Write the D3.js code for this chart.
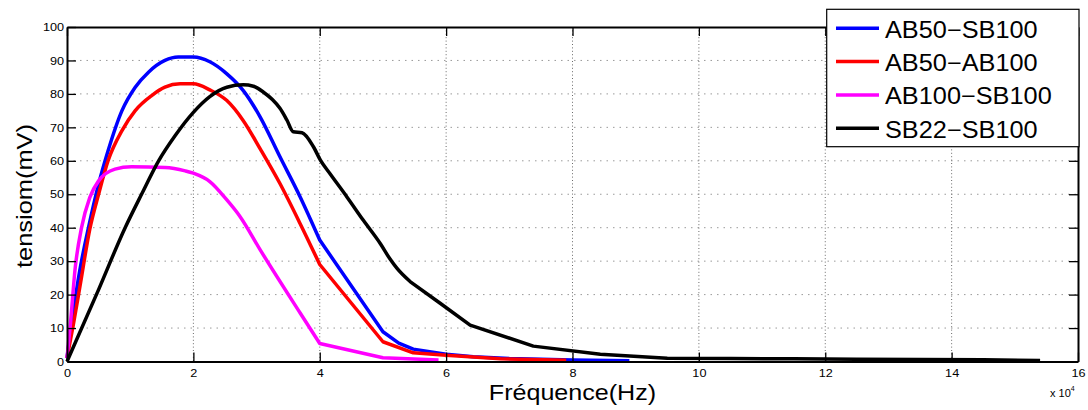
<!DOCTYPE html>
<html>
<head>
<meta charset="utf-8">
<script src="https://cdn.jsdelivr.net/npm/d3@7"></script>
<style>
  body { margin: 0; background: #fff; }
  text { font-family: "Liberation Sans", Arial, Helvetica, sans-serif; fill: #000; }
</style>
</head>
<body>
<svg width="1088" height="410"></svg>
<script>
// legend names and colours, in plot order
const seriesNames = ["AB50\u2212SB100", "AB50\u2212AB100", "AB100\u2212SB100", "SB22\u2212SB100"];
const seriesColors = ["#0000ff", "#ff0000", "#ff00ff", "#000000"];

// frequency in units of 10^4 Hz, tension in mV
const blueFreq = [0, 0.1, 0.2, 0.34, 0.5, 0.65, 0.87, 1.08, 1.29, 1.55, 1.76, 2.0, 2.26, 2.53, 2.79, 3.06, 3.37, 3.69, 4.0, 5.0, 5.25, 5.48, 6.0, 6.43, 7.0, 8.0, 8.9];
const blueVolt = [1, 15, 27, 40, 53, 63, 75, 82, 86.5, 90, 91, 91, 89.6, 86, 81, 73, 61.2, 49.2, 36.3, 8.9, 5.5, 3.7, 2.2, 1.4, 0.9, 0.45, 0.2];

const redFreq = [0, 0.1, 0.21, 0.36, 0.5, 0.65, 0.87, 1.08, 1.34, 1.55, 1.79, 2.0, 2.26, 2.53, 2.79, 3.06, 3.37, 3.69, 4.0, 5.0, 5.48, 6.0, 6.86, 7.9];
const redVolt = [1, 11, 23, 39.5, 50, 60, 69, 75, 79.5, 82, 83, 83, 81.2, 78, 72, 63.5, 53.2, 41.2, 29, 5.9, 2.6, 1.9, 0.8, 0.4];

const magentaFreq = [0, 0.05, 0.13, 0.23, 0.36, 0.5, 0.76, 1.02, 1.55, 1.87, 2.0, 2.26, 2.53, 2.74, 3.06, 3.69, 4.0, 5.0, 5.88];
const magentaVolt = [1, 10.4, 28, 40, 49, 54, 57.5, 58.2, 58, 57, 56.3, 53.8, 48.3, 43.3, 33.3, 14.5, 5.4, 1.1, 0.45];

const blackFreq = [0, 0.5, 0.92, 1.18, 1.45, 1.71, 2.0, 2.26, 2.53, 2.79, 2.95, 3.11, 3.25, 3.37, 3.48, 3.58, 3.72, 3.9, 4.01, 4.16, 4.43, 4.69, 4.96, 5.11, 5.22, 5.43, 5.9, 6.38, 7.38, 8.44, 9.5, 10.5, 11.5, 12.5, 13.5, 14.5, 15.4];
const blackVolt = [0, 21.5, 40, 50, 60, 67.5, 74.5, 79.2, 82, 82.7, 82.3, 80.5, 78.3, 75.7, 72.2, 68.7, 68.4, 64.2, 60.2, 56.2, 49.2, 42.2, 35.2, 30.7, 27.9, 23.9, 17.5, 10.9, 4.6, 2.2, 0.95, 0.9, 0.8, 0.7, 0.6, 0.5, 0.3];

// measured curves look smooth up to these frequencies, then go point to point
const smoothEnd = [4.0, 4.0, 4.0, 5.43];

const xTicks = [0, 2, 4, 6, 8, 10, 12, 14, 16];
const yTicks = [0, 10, 20, 30, 40, 50, 60, 70, 80, 90, 100];

const series = [
  { freq: blueFreq, volt: blueVolt },
  { freq: redFreq, volt: redVolt },
  { freq: magentaFreq, volt: magentaVolt },
  { freq: blackFreq, volt: blackVolt }
];

const svg = d3.select("svg");
const plotLeft = 67, plotRight = 1078, plotTop = 27, plotBottom = 361.5;

const x = d3.scaleLinear().domain([0, 16]).range([plotLeft, plotRight]);
const y = d3.scaleLinear().domain([0, 100]).range([plotBottom, plotTop]);

// stretch text a bit wider, like the original figure
function stretch(sel, k) {
  sel.each(function () {
    const w = this.getComputedTextLength();
    d3.select(this).attr("textLength", w * k).attr("lengthAdjust", "spacingAndGlyphs");
  });
}

// dotted grid
svg.append("g")
  .selectAll("line")
  .data(yTicks.slice(1, -1))
  .join("line")
  .attr("x1", plotLeft).attr("x2", plotRight)
  .attr("y1", (d) => y(d)).attr("y2", (d) => y(d))
  .attr("stroke", "#9a9a9a")
  .attr("stroke-width", 1)
  .attr("stroke-dasharray", "1.5 5");

svg.append("g")
  .selectAll("line")
  .data(xTicks.slice(1, -1))
  .join("line")
  .attr("x1", (d) => x(d)).attr("x2", (d) => x(d))
  .attr("y1", plotTop).attr("y2", plotBottom)
  .attr("stroke", "#6a6a6a")
  .attr("stroke-width", 1)
  .attr("stroke-dasharray", "1 2.4");

// curves: smooth head, straight tail
const smoothLine = d3.line()
  .curve(d3.curveMonotoneX)
  .x((d) => x(d[0]))
  .y((d) => y(d[1]));
const straightLine = d3.line()
  .x((d) => x(d[0]))
  .y((d) => y(d[1]));

const curves = svg.append("g");
series.forEach((s, i) => {
  const pts = s.freq.map((f, j) => [f, s.volt[j]]);
  const head = pts.filter((p) => p[0] <= smoothEnd[i]);
  const tail = pts.filter((p) => p[0] >= smoothEnd[i]);
  curves.append("path")
    .attr("d", smoothLine(head) + straightLine(tail).replace(/^M/, "L"))
    .attr("fill", "none")
    .attr("stroke", seriesColors[i])
    .attr("stroke-width", 3.5)
    .attr("stroke-linejoin", "round");
});

// axes with inward ticks on all sides
const gLeft = svg.append("g")
  .attr("transform", `translate(${plotLeft},0)`)
  .call(d3.axisLeft(y).tickValues(yTicks).tickSizeInner(-9).tickSizeOuter(0).tickPadding(3));
const gBottom = svg.append("g")
  .attr("transform", `translate(0,${plotBottom})`)
  .call(d3.axisBottom(x).tickValues(xTicks).tickSizeInner(-9).tickSizeOuter(0).tickPadding(7));
const gTop = svg.append("g")
  .attr("transform", `translate(0,${plotTop})`)
  .call(d3.axisTop(x).tickValues(xTicks).tickSizeInner(-9).tickSizeOuter(0).tickFormat(""));
const gRight = svg.append("g")
  .attr("transform", `translate(${plotRight},0)`)
  .call(d3.axisRight(y).tickValues(yTicks).tickSizeInner(-9).tickSizeOuter(0).tickFormat(""));

[gLeft, gBottom, gTop, gRight].forEach((g) => {
  g.select(".domain").attr("stroke", "#000").attr("stroke-width", 2);
  g.selectAll(".tick line").attr("stroke", "#000").attr("stroke-width", 1.3);
  g.selectAll(".tick text")
    .attr("font-family", "Liberation Sans, Arial, sans-serif")
    .attr("font-size", 11.5)
    .attr("fill", "#111");
});
stretch(gLeft.selectAll(".tick text"), 1.1);
stretch(gBottom.selectAll(".tick text"), 1.1);

// axis titles
svg.append("text")
  .attr("x", 572.5)
  .attr("y", 400)
  .attr("text-anchor", "middle")
  .attr("font-size", 22)
  .text("Fréquence(Hz)")
  .call(stretch, 1.14);

svg.append("text")
  .attr("transform", "translate(31.5,196) rotate(-90)")
  .attr("text-anchor", "middle")
  .attr("font-size", 22.5)
  .text("tensiom(mV)")
  .call(stretch, 1.13);

// exponent label
const expo = svg.append("text")
  .attr("x", 1050)
  .attr("y", 397)
  .attr("font-size", 11);
expo.append("tspan").text("x 10");
expo.append("tspan").attr("dy", -6).attr("font-size", 7).text("4");

// legend
const legend = svg.append("g");
legend.append("rect")
  .attr("x", 826.7).attr("y", 9.3)
  .attr("width", 252.3).attr("height", 137.4)
  .attr("fill", "#fff")
  .attr("stroke", "#000")
  .attr("stroke-width", 1.2);

const item = legend.selectAll(".item")
  .data(seriesNames)
  .join("g")
  .attr("class", "item")
  .attr("transform", (d, i) => `translate(0,${28.3 + i * 33.3})`);

item.append("line")
  .attr("x1", 836).attr("x2", 879)
  .attr("stroke", (d, i) => seriesColors[i])
  .attr("stroke-width", 3.5);

item.append("text")
  .attr("x", 885)
  .attr("y", 9.5)
  .attr("font-size", 23)
  .text((d) => d)
  .call(stretch, 1.1);
</script>
</body>
</html>
